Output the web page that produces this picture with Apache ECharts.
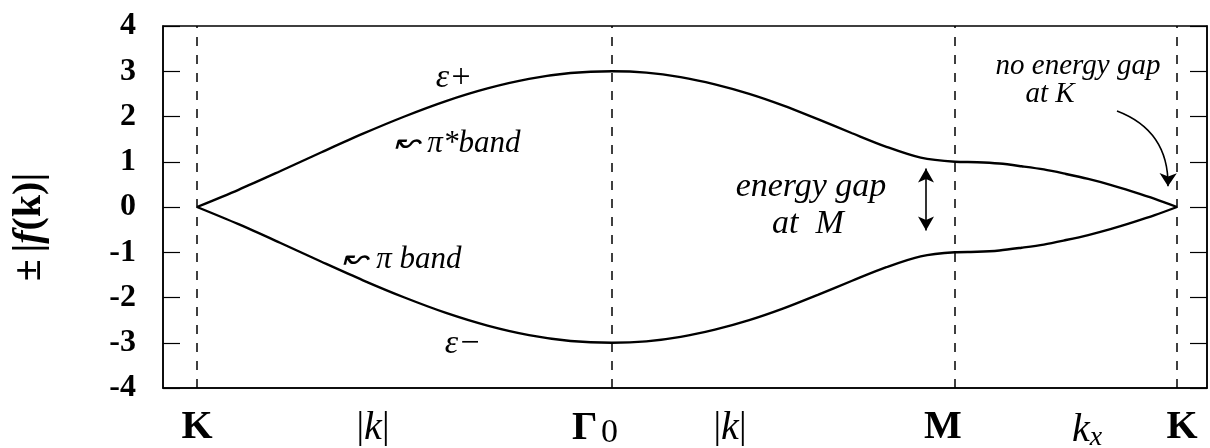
<!DOCTYPE html>
<html>
<head>
<meta charset="utf-8">
<script src="https://cdn.jsdelivr.net/npm/echarts@6/dist/echarts.min.js"></script>
<style>html,body{margin:0;padding:0;background:#fff}#c{width:1210px;height:448px}</style>
</head>
<body>
<div id="c"></div>
<script>
// path coordinate along K -> Gamma -> M -> K
const pathX = [0,0.415,0.83,1.245,1.66,2.075,2.49,2.905,3.32,3.735,4.15,
  4.493,4.836,5.179,5.522,5.865,6.208,6.551,6.894,7.237,7.58,
  7.802,8.024,8.246,8.468,8.69,8.912,9.134,9.356,9.578,9.80];
const upperBand = [0,0.38,0.79,1.21,1.62,2.00,2.34,2.62,2.83,2.96,3.00,
  2.97,2.87,2.71,2.50,2.24,1.94,1.63,1.33,1.09,1.00,
  0.99,0.96,0.90,0.83,0.73,0.62,0.49,0.34,0.18,0];
const lowerBand = [0,-0.38,-0.79,-1.21,-1.62,-2.00,-2.34,-2.62,-2.83,-2.96,-3.00,
  -2.97,-2.87,-2.71,-2.50,-2.24,-1.94,-1.63,-1.33,-1.09,-1.00,
  -0.99,-0.96,-0.90,-0.83,-0.73,-0.62,-0.49,-0.34,-0.18,0];
const symmetryPoints = [0, 4.15, 7.58, 9.80];
const xLabelValues = [0, 1.76, 3.98, 5.33, 7.46, 8.90, 9.85];
const xLabelTexts = ['{b|K}', '{r||}{i|k}{r||}', '{b|Γ} {s|0}', '{r||}{i|k}{r||}', '{b|M}', '{i|k}{sub|x}', '{b|K}'];
const yMin = -4, yMax = 4, yStep = 1;
const notes = [
  {text: 'ε+', x: 2.57, y: 2.86, size: 34},
  {text: '↜ π*band', x: 2.60, y: 1.40, size: 31},
  {text: '↜ π band', x: 2.05, y: -1.17, size: 31},
  {text: 'ε−', x: 2.66, y: -3.03, size: 34},
  {text: 'energy gap', x: 6.14, y: 0.45, size: 34},
  {text: 'at  M', x: 6.11, y: -0.37, size: 34},
  {text: 'no energy gap', x: 8.81, y: 3.10, size: 29},
  {text: 'at K', x: 8.53, y: 2.48, size: 29}
];
const gapArrow = [[7.29, 0.85], [7.29, -0.52]];
const kArrow = [[9.20, 2.12], [9.71, 0.46]];

const serif = '"Liberation Serif","Times New Roman",serif';
const chart = echarts.init(document.getElementById('c'), null, {renderer: 'canvas'});
const bandData = (ys) => pathX.map((x, i) => [x, ys[i]]);
const lineStyleBand = {color: '#000', width: 2.4};
const arrowStyle = {color: '#000', width: 1.6, type: 'solid'};

chart.setOption({
  animation: false,
  backgroundColor: '#fff',
  grid: {left: 163, right: 3, top: 26, bottom: 60, containLabel: false, outerBoundsMode: 'none',
    show: true, borderColor: '#000', borderWidth: 1.5, backgroundColor: 'transparent'},
  xAxis: {
    type: 'value', min: -0.34, max: 10.10,
    axisLine: {show: true, onZero: false, lineStyle: {color: '#000', width: 1.5}},
    axisTick: {show: false},
    splitLine: {show: false},
    axisLabel: {
      customValues: xLabelValues,
      margin: 20,
      color: '#000',
      formatter: (v) => { const i = xLabelValues.indexOf(v); return i >= 0 ? xLabelTexts[i] : ''; },
      rich: {
        b: {fontFamily: serif, fontWeight: 'bold', fontSize: 40, color: '#000'},
        r: {fontFamily: serif, fontSize: 38, color: '#000'},
        i: {fontFamily: serif, fontStyle: 'italic', fontSize: 40, color: '#000'},
        s: {fontFamily: serif, fontSize: 34, color: '#000', padding: [8, 0, 0, 0]},
        sub: {fontFamily: serif, fontStyle: 'italic', fontSize: 28, color: '#000', padding: [16, 0, 0, 0]}
      }
    }
  },
  yAxis: [{
    type: 'value', min: yMin, max: yMax, interval: yStep,
    name: '{a|±}  {a||}{f|f}{a|(}{k|k}{a|)|}',
    nameLocation: 'middle', nameGap: 113, nameRotate: 90,
    nameTextStyle: {
      padding: [0, 40, 0, 0],
      rich: {
        a: {fontFamily: serif, fontWeight: 'bold', fontSize: 40, color: '#000'},
        f: {fontFamily: serif, fontWeight: 'bold', fontStyle: 'italic', fontSize: 40, color: '#000'},
        k: {fontFamily: serif, fontWeight: 'bold', fontSize: 40, color: '#000'}
      }
    },
    axisLine: {show: true, onZero: false, lineStyle: {color: '#000', width: 1.5}},
    axisTick: {show: true, inside: true, length: 17, lineStyle: {color: '#000', width: 1.2}},
    splitLine: {show: false},
    axisLabel: {color: '#000', fontFamily: serif, fontWeight: 'bold', fontSize: 32, margin: 27}
  }, {
    type: 'value', min: yMin, max: yMax, interval: yStep, position: 'right',
    axisLine: {show: true, onZero: false, lineStyle: {color: '#000', width: 1.5}},
    axisTick: {show: true, inside: true, length: 17, lineStyle: {color: '#000', width: 1.2}},
    axisLabel: {show: false}, splitLine: {show: false}
  }],
  series: [{
    type: 'line', data: bandData(upperBand), smooth: 0.3, symbol: 'none',
    lineStyle: lineStyleBand,
    markLine: {
      silent: true, symbol: 'none', label: {show: false},
      lineStyle: {color: '#000', width: 1.5, type: [9, 9]},
      data: symmetryPoints.map(v => ({xAxis: v}))
    }
  }, {
    type: 'line', data: bandData(lowerBand), smooth: 0.3, symbol: 'none',
    lineStyle: lineStyleBand,
    markLine: {
      silent: true, label: {show: false}, symbolSize: [12, 14],
      lineStyle: arrowStyle,
      data: [
        [{coord: gapArrow[0], symbol: 'arrow'}, {coord: gapArrow[1], symbol: 'arrow'}]
      ]
    }
  }, {
    type: 'lines', coordinateSystem: 'cartesian2d', silent: true,
    symbol: ['none', 'arrow'], symbolSize: 13,
    lineStyle: {color: '#000', width: 1.6, opacity: 1, curveness: 0.35},
    data: [{coords: kArrow}]
  }]
});

chart.setOption({
  graphic: notes.map(n => {
    const p = chart.convertToPixel({gridIndex: 0}, [n.x, n.y]);
    return {type: 'text', x: p[0], y: p[1], silent: true,
      style: {text: n.text, fill: '#000', font: 'italic ' + n.size + 'px ' + serif, align: 'center', verticalAlign: 'middle'}};
  })
});
</script>
</body>
</html>
